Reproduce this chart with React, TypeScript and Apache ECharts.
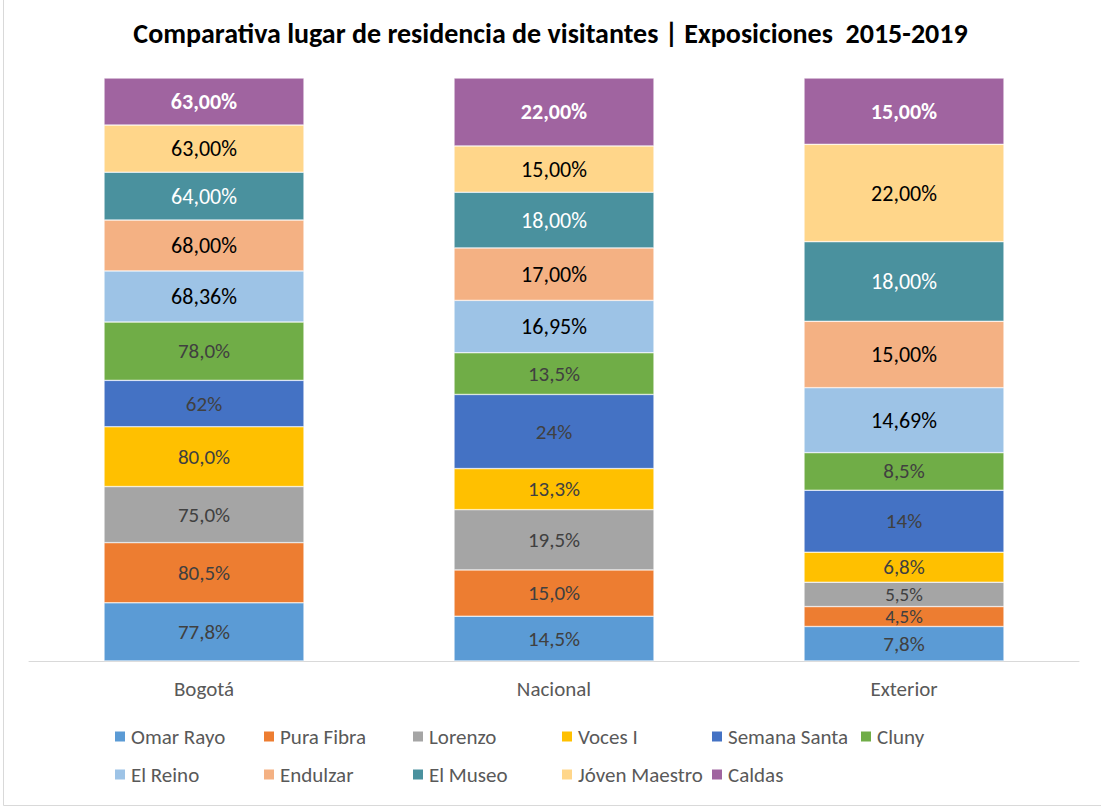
import React, { useEffect, useRef } from "react";
import * as echarts from "echarts";

const categories = ["Bogotá", "Nacional", "Exterior"];
const seriesNames = [
  "Omar Rayo", "Pura Fibra", "Lorenzo", "Voces I", "Semana Santa", "Cluny",
  "El Reino", "Endulzar", "El Museo", "Jóven Maestro", "Caldas",
];
const omarRayo = [77.8, 14.5, 7.8];
const puraFibra = [80.5, 15.0, 4.5];
const lorenzo = [75.0, 19.5, 5.5];
const vocesI = [80.0, 13.3, 6.8];
const semanaSanta = [62, 24, 14];
const cluny = [78.0, 13.5, 8.5];
const elReino = [68.36, 16.95, 14.69];
const endulzar = [68.0, 17.0, 15.0];
const elMuseo = [64.0, 18.0, 18.0];
const jovenMaestro = [63.0, 15.0, 22.0];
const caldas = [63.0, 22.0, 15.0];
const decimals = [1, 1, 1, 1, 0, 1, 2, 2, 2, 2, 2];
const colors = [
  "#5b9bd5", "#ed7d31", "#a5a5a5", "#ffc000", "#4472c4", "#70ad47",
  "#9dc3e6", "#f4b183", "#4a919e", "#ffd68a", "#a064a0",
];

const FONT = "Carlito, Calibri, Lato, sans-serif";

export default function App() {
  const ref = useRef<HTMLDivElement>(null);
  useEffect(() => {
    if (!ref.current) return;
    const chart = echarts.init(ref.current, undefined, { renderer: "svg" });
    const raw = [omarRayo, puraFibra, lorenzo, vocesI, semanaSanta, cluny, elReino, endulzar, elMuseo, jovenMaestro, caldas];
    const totals = categories.map((_, i) => raw.reduce((s, arr) => s + arr[i], 0));
    const labelStyle = (idx: number) => {
      if (idx <= 5) return { color: "#404040", fontSize: 21, fontWeight: "normal", lineHeight: 17 };
      if (idx === 8) return { color: "#ffffff", fontSize: 22, fontWeight: "normal" };
      if (idx === 10) return { color: "#ffffff", fontSize: 22, fontWeight: "bold" };
      return { color: "#000000", fontSize: 22, fontWeight: "normal" };
    };
    const series = raw.map((arr, si) => ({
      name: seriesNames[si],
      type: "bar",
      stack: "total",
      barWidth: 200,
      itemStyle: { color: colors[si], borderColor: "#ffffff", borderWidth: 0.5 },
      data: arr.map((v, ci) => {
        const share = (v / totals[ci]) * 100;
        return share < 4.5
          ? { value: share, label: { fontSize: 19, lineHeight: 15 } }
          : share;
      }),
      label: {
        show: true,
        position: "inside",
        fontFamily: FONT,
        padding: 0,
        ...labelStyle(si),
        formatter: (p: any) => arr[p.dataIndex].toFixed(decimals[si]).replace(".", ",") + "%",
      },
    }));
    const legendX = [108, 257, 406, 555, 705, 854];
    const legends = seriesNames.map((n, i) => ({
      data: [n],
      left: legendX[i % 6],
      top: i < 6 ? 721 : 759,
      icon: "rect",
      itemWidth: 12,
      itemHeight: 12,
      textStyle: { color: "#595959", fontSize: 21, fontFamily: FONT },
      selectedMode: false,
    }));
    chart.setOption({
      animation: false,
      backgroundColor: "#ffffff",
      title: {
        text: "Comparativa lugar de residencia de visitantes | Exposiciones  2015-2019",
        left: "center",
        top: 14,
        textStyle: { color: "#000000", fontSize: 28, fontWeight: "bold", fontFamily: FONT },
      },
      grid: { left: 29, top: 78, width: 1050, height: 583 },
      xAxis: {
        type: "category",
        data: categories,
        axisLine: { lineStyle: { color: "#d9d9d9" } },
        axisTick: { show: false },
        axisLabel: { color: "#595959", fontSize: 21, fontFamily: FONT, margin: 17 },
      },
      yAxis: { type: "value", min: 0, max: 100, show: false },
      legend: legends,
      graphic: [
        {
          type: "rect",
          shape: { x: 3.5, y: -5, width: 1110, height: 810.5 },
          style: { fill: "none", stroke: "#d9d9d9", lineWidth: 1 },
          silent: true,
        },
      ],
      series,
    });
    return () => chart.dispose();
  }, []);
  return (
    <div
      ref={ref}
      style={{ position: "absolute", left: 0, top: 0, width: 1101, height: 811 }}
    />
  );
}
